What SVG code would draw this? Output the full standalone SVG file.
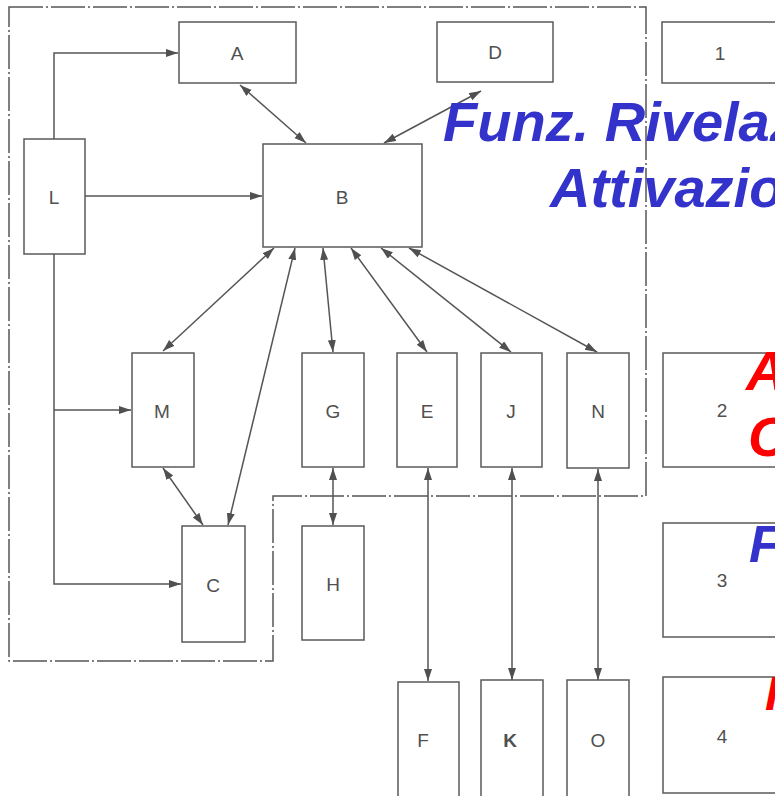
<svg xmlns="http://www.w3.org/2000/svg" width="775" height="796" viewBox="0 0 775 796">
<style>
.box{fill:#fff;stroke:#5a5a5a;stroke-width:1.5}
.lbl{font-family:"Liberation Sans",Arial,sans-serif;font-size:19px;fill:#505050;text-anchor:middle;dominant-baseline:central}
.ln{fill:none;stroke:#555;stroke-width:1.5}
.bd{marker-start:url(#ah);marker-end:url(#ah)}
.en{marker-end:url(#ah)}
.border{fill:none;stroke:#555;stroke-width:1.5;stroke-dasharray:34 3 2 3}
.ov{font-family:"Liberation Sans",Arial,sans-serif;font-weight:bold;font-style:italic}
.blue{fill:#3333cc}
.red{fill:#ff0000}
</style>
<defs>
<marker id="ah" markerUnits="userSpaceOnUse" markerWidth="13" markerHeight="9" refX="12" refY="4" orient="auto-start-reverse" viewBox="0 0 13 9">
<path d="M0,0 L12,4 L0,8 z" fill="#505050"/>
</marker>
</defs>
<rect width="775" height="796" fill="#fff"/>
<path class="border" d="M9,7 H646 V496 H273 V661 H9 Z"/>
<g id="connectors">
<path class="ln en" d="M54,139 V53 H178"/>
<path class="ln en" d="M85,196 H262"/>
<path class="ln en" d="M54,254 V584 H181"/>
<path class="ln en" d="M54,410 H131"/>
<path class="ln bd" d="M240,85 L306,143"/>
<path class="ln bd" d="M481,91 L384,143"/>
<path class="ln bd" d="M274,248 L163,351"/>
<path class="ln bd" d="M295,248 L228,525"/>
<path class="ln bd" d="M323,248 L333,352"/>
<path class="ln bd" d="M351,248 L427,352"/>
<path class="ln bd" d="M381,248 L511,352"/>
<path class="ln bd" d="M409,248 L597,352"/>
<path class="ln bd" d="M163,468 L203,525"/>
<path class="ln bd" d="M333,468 L333,525"/>
<path class="ln bd" d="M428,468 L428,681"/>
<path class="ln bd" d="M512,468 L512,680"/>
<path class="ln bd" d="M598,469 L598,680"/>
</g>
<g id="nA"><rect class="box" x="179" y="22" width="117" height="61"/><text class="lbl" x="237" y="53">A</text></g>
<g id="nD"><rect class="box" x="437" y="22" width="116" height="60"/><text class="lbl" x="495" y="52">D</text></g>
<g id="n1"><rect class="box" x="662" y="22" width="117" height="61"/><text class="lbl" x="720" y="53">1</text></g>
<g id="nL"><rect class="box" x="24" y="139" width="61" height="115"/><text class="lbl" x="54" y="197">L</text></g>
<g id="nB"><rect class="box" x="263" y="144" width="159" height="103"/><text class="lbl" x="342" y="197">B</text></g>
<g id="nM"><rect class="box" x="132" y="353" width="62" height="114"/><text class="lbl" x="162" y="411">M</text></g>
<g id="nG"><rect class="box" x="302" y="353" width="62" height="114"/><text class="lbl" x="333" y="411">G</text></g>
<g id="nE"><rect class="box" x="397" y="353" width="60" height="114"/><text class="lbl" x="427" y="411">E</text></g>
<g id="nJ"><rect class="box" x="481" y="353" width="61" height="114"/><text class="lbl" x="511" y="411">J</text></g>
<g id="nN"><rect class="box" x="567" y="353" width="62" height="115"/><text class="lbl" x="598" y="411">N</text></g>
<g id="n2"><rect class="box" x="663" y="353" width="120" height="114"/><text class="lbl" x="722" y="410">2</text></g>
<g id="nC"><rect class="box" x="182" y="526" width="63" height="116"/><text class="lbl" x="213" y="585">C</text></g>
<g id="nH"><rect class="box" x="302" y="526" width="62" height="114"/><text class="lbl" x="333" y="584">H</text></g>
<g id="n3"><rect class="box" x="663" y="523" width="120" height="114"/><text class="lbl" x="722" y="580">3</text></g>
<g id="nF"><rect class="box" x="398" y="682" width="61" height="120"/><text class="lbl" x="423" y="740">F</text></g>
<g id="nK"><rect class="box" x="481" y="680" width="62" height="122"/><text class="lbl" x="510" y="740" font-weight="bold">K</text></g>
<g id="nO"><rect class="box" x="567" y="680" width="62" height="122"/><text class="lbl" x="598" y="740">O</text></g>
<g id="n4"><rect class="box" x="663" y="677" width="120" height="116"/><text class="lbl" x="722" y="736">4</text></g>
<g id="overlay">
<text class="ov blue" x="443" y="141" font-size="56">Funz. Rivelaz</text>
<text class="ov blue" x="550" y="207" font-size="56">Attivazio</text>
<text class="ov red" x="746" y="390" font-size="56">A</text>
<text class="ov red" x="748" y="456" font-size="56">C</text>
<text class="ov blue" x="749" y="562" font-size="52">F</text>
<text class="ov red" x="765" y="710" font-size="48">I</text>
</g>
</svg>
